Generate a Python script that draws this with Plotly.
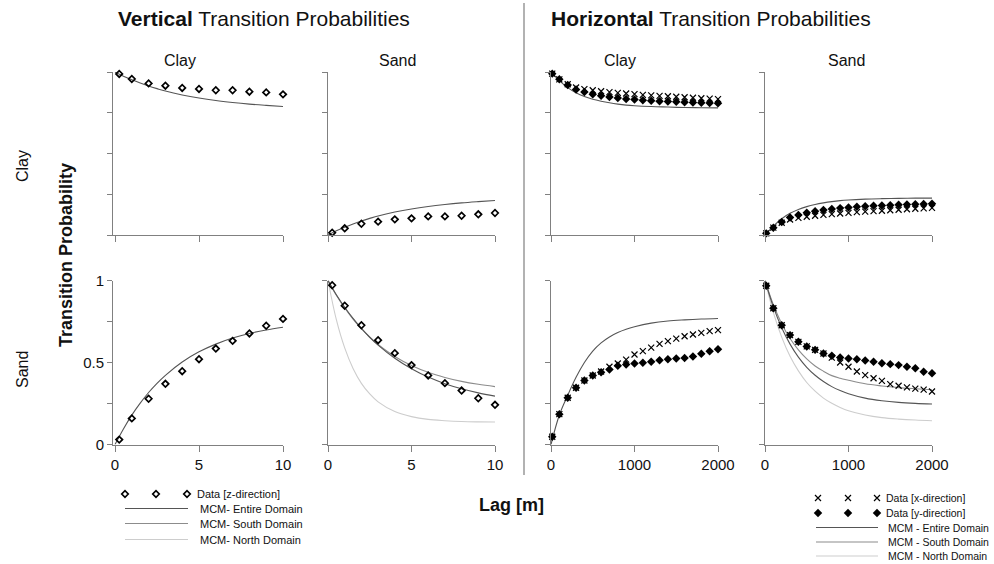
import plotly.graph_objects as go

# ---------------- data ----------------
# Vertical (z-direction) lags [m]
v_lag = [0.25, 1, 2, 3, 4, 5, 6, 7, 8, 9, 10]
v_cc = [0.988, 0.957, 0.930, 0.916, 0.902, 0.896, 0.888, 0.888, 0.879, 0.875, 0.863]
v_cs = [0.014, 0.041, 0.069, 0.082, 0.096, 0.102, 0.114, 0.114, 0.118, 0.127, 0.135]
v_sc = [0.030, 0.159, 0.279, 0.370, 0.447, 0.520, 0.585, 0.632, 0.677, 0.724, 0.766]
v_ss = [0.971, 0.846, 0.727, 0.636, 0.557, 0.484, 0.421, 0.374, 0.329, 0.282, 0.242]

# Vertical Markov-chain model curves
vm_lag = [0, 0.5, 1, 1.5, 2, 2.5, 3, 4, 5, 6, 7, 8, 9, 10]
vm_cc_entire = [1.0, 0.974, 0.952, 0.932, 0.914, 0.898, 0.883, 0.859, 0.840, 0.825, 0.813, 0.803, 0.795, 0.788]
vm_cs_entire = [0.0, 0.026, 0.048, 0.068, 0.086, 0.102, 0.117, 0.141, 0.160, 0.175, 0.187, 0.197, 0.205, 0.212]
vm_sc_entire = [0.0, 0.095, 0.179, 0.252, 0.317, 0.373, 0.422, 0.503, 0.565, 0.612, 0.649, 0.677, 0.698, 0.715]
vm_ss_entire = [1.0, 0.913, 0.837, 0.769, 0.708, 0.654, 0.606, 0.526, 0.462, 0.411, 0.371, 0.340, 0.315, 0.295]
vm_ss_south = [1.0, 0.910, 0.832, 0.765, 0.706, 0.654, 0.610, 0.537, 0.482, 0.440, 0.409, 0.385, 0.367, 0.353]
vm_ss_north = [1.0, 0.761, 0.589, 0.464, 0.373, 0.308, 0.260, 0.201, 0.170, 0.153, 0.145, 0.140, 0.138, 0.137]

# Horizontal lags [m]
h_lag = [15, 100, 200, 300, 400, 500, 600, 700, 800, 900, 1000,
         1100, 1200, 1300, 1400, 1500, 1600, 1700, 1800, 1900, 2000]
hx_cc = [0.990, 0.955, 0.925, 0.905, 0.895, 0.888, 0.882, 0.877, 0.872, 0.868, 0.864,
         0.860, 0.857, 0.854, 0.851, 0.848, 0.845, 0.842, 0.839, 0.837, 0.834]
hy_cc = [0.990, 0.955, 0.920, 0.893, 0.877, 0.864, 0.854, 0.846, 0.840, 0.835, 0.831,
         0.827, 0.824, 0.821, 0.819, 0.817, 0.815, 0.813, 0.811, 0.810, 0.808]
hx_cs = [0.010, 0.045, 0.075, 0.095, 0.105, 0.112, 0.118, 0.123, 0.128, 0.132, 0.136,
         0.140, 0.143, 0.146, 0.149, 0.152, 0.155, 0.158, 0.161, 0.163, 0.166]
hy_cs = [0.010, 0.045, 0.080, 0.107, 0.123, 0.136, 0.146, 0.154, 0.160, 0.165, 0.169,
         0.173, 0.176, 0.179, 0.181, 0.183, 0.185, 0.187, 0.189, 0.190, 0.192]
hx_sc = [0.047, 0.185, 0.285, 0.346, 0.390, 0.421, 0.445, 0.474, 0.494, 0.518, 0.549,
         0.569, 0.591, 0.614, 0.630, 0.646, 0.660, 0.671, 0.681, 0.691, 0.697]
hy_sc = [0.047, 0.185, 0.285, 0.346, 0.390, 0.421, 0.441, 0.457, 0.480, 0.488, 0.494,
         0.498, 0.504, 0.514, 0.520, 0.524, 0.528, 0.537, 0.553, 0.569, 0.581]
hx_ss = [0.968, 0.831, 0.727, 0.667, 0.626, 0.598, 0.577, 0.555, 0.530, 0.500, 0.474,
         0.445, 0.423, 0.404, 0.388, 0.368, 0.358, 0.348, 0.341, 0.335, 0.323]
hy_ss = [0.968, 0.831, 0.727, 0.667, 0.626, 0.598, 0.577, 0.555, 0.541, 0.530, 0.524,
         0.520, 0.512, 0.504, 0.496, 0.490, 0.484, 0.474, 0.465, 0.443, 0.435]

# Horizontal Markov-chain model curves
hm_lag = [0, 100, 200, 300, 400, 500, 600, 700, 800, 900, 1000, 1200, 1400, 1600, 1800, 2000]
hm_cc_entire = [1.0, 0.947, 0.904, 0.872, 0.849, 0.833, 0.821, 0.811, 0.803, 0.797, 0.793, 0.788, 0.785, 0.782, 0.781, 0.780]
hm_cs_entire = [0.0, 0.055, 0.100, 0.133, 0.157, 0.174, 0.187, 0.197, 0.205, 0.211, 0.215, 0.220, 0.223, 0.225, 0.226, 0.226]
hm_sc_entire = [0.0, 0.180, 0.300, 0.410, 0.500, 0.570, 0.620, 0.656, 0.683, 0.703, 0.718, 0.740, 0.753, 0.760, 0.765, 0.768]
hm_ss_entire = [1.0, 0.839, 0.712, 0.612, 0.533, 0.471, 0.422, 0.384, 0.353, 0.329, 0.310, 0.283, 0.267, 0.257, 0.251, 0.247]
hm_ss_south = [1.0, 0.852, 0.737, 0.646, 0.577, 0.522, 0.479, 0.447, 0.420, 0.404, 0.392, 0.370, 0.357, 0.347, 0.340, 0.334]
hm_ss_north = [1.0, 0.806, 0.655, 0.538, 0.449, 0.378, 0.325, 0.283, 0.251, 0.226, 0.206, 0.180, 0.164, 0.155, 0.149, 0.145]

v_ticks = [0, 5, 10]
h_ticks = [0, 1000, 2000]
p_ticks = [0, 0.25, 0.5, 0.75, 1]
p_ticktext = ["0", "", "0.5", "", "1"]

# ---------------- styling ----------------
W, H = 994, 564
FONT = "Arial, Liberation Sans, sans-serif"
AXIS = "#808080"
C_ENTIRE = "#555555"
C_SOUTH = "#8c8c8c"
C_NORTH = "#cdcdcd"
TXT = "#111111"

# panel frames in pixels: column x spans, row y spans
cols = {1: (113, 283, [-0.12, 10], v_ticks),
        2: (328, 495, [0, 10], v_ticks),
        3: (551, 718, [0, 2000], h_ticks),
        4: (765, 932, [0, 2000], h_ticks)}
rows = {1: (72, 235), 2: (280.5, 444.5)}


def fx(px):
    return px / W


def fy(py):
    return 1 - py / H


fig = go.Figure()
layout = {}
panel_ids = {}
k = 0
for r in (1, 2):
    for c in (1, 2, 3, 4):
        k += 1
        sfx = "" if k == 1 else str(k)
        x0, x1, xr, xt = cols[c]
        y0, y1 = rows[r]
        layout["xaxis" + sfx] = dict(
            domain=[fx(x0), fx(x1)], range=xr, anchor="y" + sfx,
            showline=True, linecolor=AXIS, linewidth=1,
            ticks="outside", ticklen=6, tickcolor=AXIS, tickwidth=1,
            tickvals=xt, showticklabels=(r == 2),
            tickfont=dict(family=FONT, size=15, color=TXT),
            showgrid=False, zeroline=False, fixedrange=True, automargin=False)
        layout["yaxis" + sfx] = dict(
            domain=[fy(y1), fy(y0)], range=[0, 1], anchor="x" + sfx,
            showline=True, linecolor=AXIS, linewidth=1,
            ticks="outside", ticklen=5, tickcolor=AXIS, tickwidth=1,
            tickvals=p_ticks, ticktext=p_ticktext,
            showticklabels=(r == 2 and c == 1),
            tickfont=dict(family=FONT, size=15, color=TXT),
            showgrid=False, zeroline=False, fixedrange=True, automargin=False)
        panel_ids[(r, c)] = ("x" + sfx, "y" + sfx)


def line(panel, x, y, color):
    xa, ya = panel_ids[panel]
    fig.add_trace(go.Scatter(x=x, y=y, mode="lines", xaxis=xa, yaxis=ya,
                             line=dict(color=color, width=1.1, shape="spline"),
                             showlegend=False, hoverinfo="skip", cliponaxis=False))


def pts(panel, x, y, kind):
    xa, ya = panel_ids[panel]
    if kind == "z":
        m = dict(symbol="diamond-open", size=5, color="#000000",
                 line=dict(width=1.7, color="#000000"))
    elif kind == "x":
        m = dict(symbol="x-thin-open", size=6, color="#000000",
                 line=dict(width=1.2, color="#000000"))
    else:
        m = dict(symbol="diamond", size=6.5, color="#000000",
                 line=dict(width=0, color="#000000"))
    fig.add_trace(go.Scatter(x=x, y=y, mode="markers", xaxis=xa, yaxis=ya,
                             marker=m, showlegend=False, cliponaxis=False))


# Vertical: model curves
line((1, 1), vm_lag, vm_cc_entire, C_ENTIRE)
line((1, 2), vm_lag, vm_cs_entire, C_ENTIRE)
line((2, 1), vm_lag, vm_sc_entire, C_ENTIRE)
line((2, 2), vm_lag, vm_ss_north, C_NORTH)
line((2, 2), vm_lag, vm_ss_south, C_SOUTH)
line((2, 2), vm_lag, vm_ss_entire, C_ENTIRE)
# Vertical: measured
pts((1, 1), v_lag, v_cc, "z")
pts((1, 2), v_lag, v_cs, "z")
pts((2, 1), v_lag, v_sc, "z")
pts((2, 2), v_lag, v_ss, "z")

# Horizontal: model curves
line((1, 3), hm_lag, hm_cc_entire, C_ENTIRE)
line((1, 4), hm_lag, hm_cs_entire, C_ENTIRE)
line((2, 3), hm_lag, hm_sc_entire, C_ENTIRE)
line((2, 4), hm_lag, hm_ss_north, C_NORTH)
line((2, 4), hm_lag, hm_ss_south, C_SOUTH)
line((2, 4), hm_lag, hm_ss_entire, C_ENTIRE)
# Horizontal: measured, x- and y-direction
for panel, xs, ys in (((1, 3), hx_cc, hy_cc), ((1, 4), hx_cs, hy_cs),
                      ((2, 3), hx_sc, hy_sc), ((2, 4), hx_ss, hy_ss)):
    pts(panel, h_lag, ys, "y")
    pts(panel, h_lag, xs, "x")

# ---------------- legends (pixel-space overlay axis) ----------------
layout["xaxis9"] = dict(domain=[0, 1], range=[0, W], visible=False, fixedrange=True,
                        anchor="y9", automargin=False)
layout["yaxis9"] = dict(domain=[0, 1], range=[H, 0], visible=False, fixedrange=True,
                        anchor="x9", automargin=False)

annotations = []
shapes = []


def leg_text(x, y, s, size=11):
    annotations.append(dict(x=fx(x), y=fy(y), xref="paper", yref="paper", text=s,
                            showarrow=False, xanchor="left", yanchor="middle",
                            font=dict(family=FONT, size=size, color=TXT)))


def leg_line(x0, x1, y, color):
    shapes.append(dict(type="line", xref="paper", yref="paper",
                       x0=fx(x0), x1=fx(x1), y0=fy(y), y1=fy(y),
                       line=dict(color=color, width=1.1)))


def leg_marks(xs, y, sym, size, lw):
    fig.add_trace(go.Scatter(x=xs, y=[y] * len(xs), mode="markers", xaxis="x9", yaxis="y9",
                             marker=dict(symbol=sym, size=size, color="#000000",
                                         line=dict(width=lw, color="#000000")),
                             showlegend=False, hoverinfo="skip", cliponaxis=False))


# left legend (vertical data)
leg_marks([125, 156, 187], 494, "diamond-open", 5, 1.7)
leg_text(195, 494, "Data [z-direction]")
leg_line(125, 188, 508.5, C_ENTIRE)
leg_text(198, 508.5, "MCM- Entire Domain")
leg_line(125, 188, 523.5, C_SOUTH)
leg_text(198, 523.5, "MCM- South Domain")
leg_line(125, 188, 539.5, C_NORTH)
leg_text(198, 539.5, "MCM- North Domain")

# right legend (horizontal data)
leg_marks([818, 848, 877], 498, "x-thin-open", 6, 1.2)
leg_text(884, 498, "Data [x-direction]", 10.5)
leg_marks([818, 848, 877], 513, "diamond", 6.5, 0)
leg_text(884, 513, "Data [y-direction]", 10.5)
leg_line(816, 878, 527.5, C_ENTIRE)
leg_text(886, 527.5, "MCM - Entire Domain", 10.5)
leg_line(816, 878, 542, C_SOUTH)
leg_text(886, 542, "MCM - South Domain", 10.5)
leg_line(816, 878, 556, C_NORTH)
leg_text(886, 556, "MCM - North Domain", 10.5)

# ---------------- titles and labels ----------------
def label(x, y, s, size, angle=0, bold=False):
    annotations.append(dict(x=fx(x), y=fy(y), xref="paper", yref="paper",
                            text=("<b>%s</b>" % s) if bold else s, textangle=angle,
                            showarrow=False, xanchor="center", yanchor="middle",
                            font=dict(family=FONT, size=size, color=TXT)))


label(264, 19, "<b>Vertical</b> Transition Probabilities", 21)
label(711, 19, "<b>Horizontal</b> Transition Probabilities", 21)
label(180, 60, "Clay", 16)
label(397, 60, "Sand", 16)
label(620, 60, "Clay", 16)
label(846, 60, "Sand", 16)
label(22, 166, "Clay", 16, angle=-90)
label(22, 370, "Sand", 16, angle=-90)
label(66, 255, "Transition Probability", 18, angle=-90, bold=True)
label(511, 505, "Lag [m]", 18, bold=True)

# divider between vertical and horizontal blocks
shapes.append(dict(type="line", xref="paper", yref="paper",
                   x0=fx(524), x1=fx(524), y0=fy(3), y1=fy(475),
                   line=dict(color="#999999", width=1.5)))

fig.update_layout(
    width=W, height=H,
    margin=dict(l=0, r=0, t=0, b=0, pad=0, autoexpand=False),
    paper_bgcolor="white", plot_bgcolor="rgba(0,0,0,0)",
    showlegend=False,
    annotations=annotations, shapes=shapes,
    **layout)

# page body without default margins so the figure fills the window exactly
fig.write_html("out.html", config={"displayModeBar": False},
               post_script="document.body.style.margin='0';"
                           "document.body.style.overflow='hidden';")
